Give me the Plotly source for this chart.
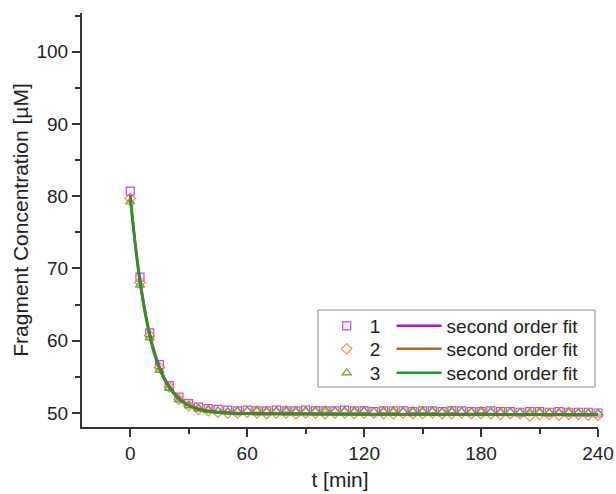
import plotly.graph_objects as go

# Sampling times [min]
t = [0, 5, 10, 15, 20, 25, 30, 35, 40, 45,
     50, 55, 60, 65, 70, 75, 80, 85, 90, 95,
     100, 105, 110, 115, 120, 125, 130, 135, 140, 145,
     150, 155, 160, 165, 170, 175, 180, 185, 190, 195,
     200, 205, 210, 215, 220, 225, 230, 235, 240]

# Measured fragment concentration [µM] for the three replicates
conc_1 = [80.7, 68.8, 61.1, 56.7, 53.8, 52.2, 51.3, 50.8, 50.6, 50.5,
          50.4, 50.3, 50.4, 50.3, 50.3, 50.4, 50.3, 50.3, 50.4, 50.3,
          50.3, 50.3, 50.4, 50.3, 50.3, 50.2, 50.3, 50.3, 50.3, 50.2,
          50.3, 50.3, 50.2, 50.3, 50.3, 50.2, 50.2, 50.3, 50.2, 50.2,
          50.1, 50.2, 50.2, 50.1, 50.2, 50.1, 50.1, 50.1, 50.0]
conc_2 = [79.7, 68.1, 60.7, 56.3, 53.6, 51.9, 51.0, 50.5, 50.3, 50.1,
          50.0, 50.0, 50.1, 50.0, 49.9, 50.0, 50.0, 49.9, 50.0, 50.0,
          49.9, 50.0, 50.0, 49.9, 50.0, 50.0, 49.9, 49.9, 50.0, 49.9,
          49.9, 50.0, 49.9, 49.9, 50.0, 49.9, 49.9, 49.9, 49.8, 49.9,
          49.9, 49.6, 49.8, 49.8, 49.7, 49.8, 49.8, 49.7, 49.7]
conc_3 = [79.2, 67.7, 60.4, 55.9, 53.4, 51.8, 51.0, 50.6, 50.4, 50.3,
          50.2, 50.3, 50.3, 50.4, 50.3, 50.3, 50.4, 50.3, 50.3, 50.3,
          50.4, 50.3, 50.3, 50.3, 50.3, 50.2, 50.3, 50.3, 50.2, 50.3,
          50.3, 50.3, 50.2, 50.3, 50.2, 50.2, 50.3, 50.2, 50.2, 50.2,
          50.1, 50.1, 50.2, 50.1, 50.1, 50.2, 50.1, 50.0, 50.0]

# Second order fit curves, evaluated at these times
t_fit = [0, 2.5, 5, 7.5, 10, 12.5, 15, 17.5, 20, 25, 30, 35, 40, 50, 60, 90, 120, 180, 240]
fit_1 = [80.2, 73.8, 68.5, 64.4, 61.0, 58.4, 56.4, 54.9, 53.7, 52.1, 51.1, 50.6, 50.3,
         50.05, 49.95, 49.9, 49.85, 49.85, 49.8]
fit_2 = [79.9, 73.5, 68.2, 64.1, 60.8, 58.2, 56.2, 54.7, 53.6, 52.0, 51.05, 50.55, 50.25,
         50.0, 49.9, 49.85, 49.8, 49.8, 49.75]
fit_3 = [79.6, 73.3, 68.0, 63.9, 60.6, 58.0, 56.1, 54.6, 53.5, 51.9, 51.0, 50.5, 50.2,
         49.98, 49.88, 49.83, 49.8, 49.78, 49.75]

labels = ["1", "2", "3"]
fit_label = "second order fit"

FONT = "Liberation Sans, Arial, sans-serif"
TEXT = "#222222"
AXIS = "#333333"

# one small legend per cell of the 3x2 key: (data legend, fit legend) per row
row_legends = [("legend", "legend2"), ("legend3", "legend4"), ("legend5", "legend6")]
row_y = [0.2440, 0.1884, 0.1304]

fig = go.Figure()

markers = [
    (conc_1, "square-open", "#D040F0"),
    (conc_2, "diamond-open", "#FF8A3D"),
    (conc_3, "triangle-up-open", "#66A82A"),
]
for i, (name, (ys, sym, col)) in enumerate(zip(labels, markers)):
    fig.add_trace(go.Scatter(
        x=t, y=ys, mode="markers", name=name, legend=row_legends[i][0],
        showlegend=True, cliponaxis=False,
        marker=dict(symbol=sym, size=8, color=col, line=dict(width=1.2, color=col)),
    ))

fits = [(fit_1, "#B414D6"), (fit_2, "#B8622C"), (fit_3, "#1E9A22")]
for i, (ys, col) in enumerate(fits):
    fig.add_trace(go.Scatter(
        x=t_fit, y=ys, mode="lines", name=fit_label, legend=row_legends[i][1],
        showlegend=True,
        line=dict(color=col, width=2.5, shape="spline", smoothing=0.8),
    ))

axis_common = dict(
    showline=True, linecolor=AXIS, linewidth=2, mirror=False,
    ticks="outside", ticklen=8, tickwidth=1.5, tickcolor=AXIS,
    showgrid=False, zeroline=False, automargin=False,
    tickfont=dict(family=FONT, size=19, color=TEXT),
)

fig.update_xaxes(
    range=[-24.75, 240], tick0=0, dtick=60,
    minor=dict(dtick=30, ticks="outside", ticklen=5, tickwidth=1.5, tickcolor=AXIS),
    title=dict(text="t [min]", font=dict(family=FONT, size=21, color=TEXT), standoff=10),
    **axis_common,
)
fig.update_yaxes(
    range=[48.06, 105.36], tick0=50, dtick=10,
    minor=dict(dtick=5, ticks="outside", ticklen=5, tickwidth=1.5, tickcolor=AXIS),
    title=dict(text="Fragment Concentration [µM]", font=dict(family=FONT, size=21, color=TEXT),
               standoff=2),
    **axis_common,
)

legend_common = dict(
    xanchor="left", yanchor="middle", bgcolor="rgba(0,0,0,0)", borderwidth=0,
    font=dict(family=FONT, size=19, color=TEXT), visible=True,
)

legends = {}
for (lg_data, lg_fit), y in zip(row_legends, row_y):
    legends[lg_data] = dict(x=0.4684, y=y, itemwidth=36, **legend_common)
    legends[lg_fit] = dict(x=0.600, y=y, itemwidth=45, **legend_common)

fig.update_layout(
    width=616, height=494,
    showlegend=True,
    margin=dict(l=82, r=18, t=13, b=67, autoexpand=False),
    paper_bgcolor="white", plot_bgcolor="white",
    font=dict(family=FONT, color=TEXT),
    shapes=[dict(
        type="rect", xref="paper", yref="paper",
        x0=0.4574, x1=0.9942, y0=0.0966, y1=0.2826,
        line=dict(color="#8a8a8a", width=1), fillcolor="rgba(0,0,0,0)", layer="above",
    )],
    **legends,
)

fig.write_html("out.html")
